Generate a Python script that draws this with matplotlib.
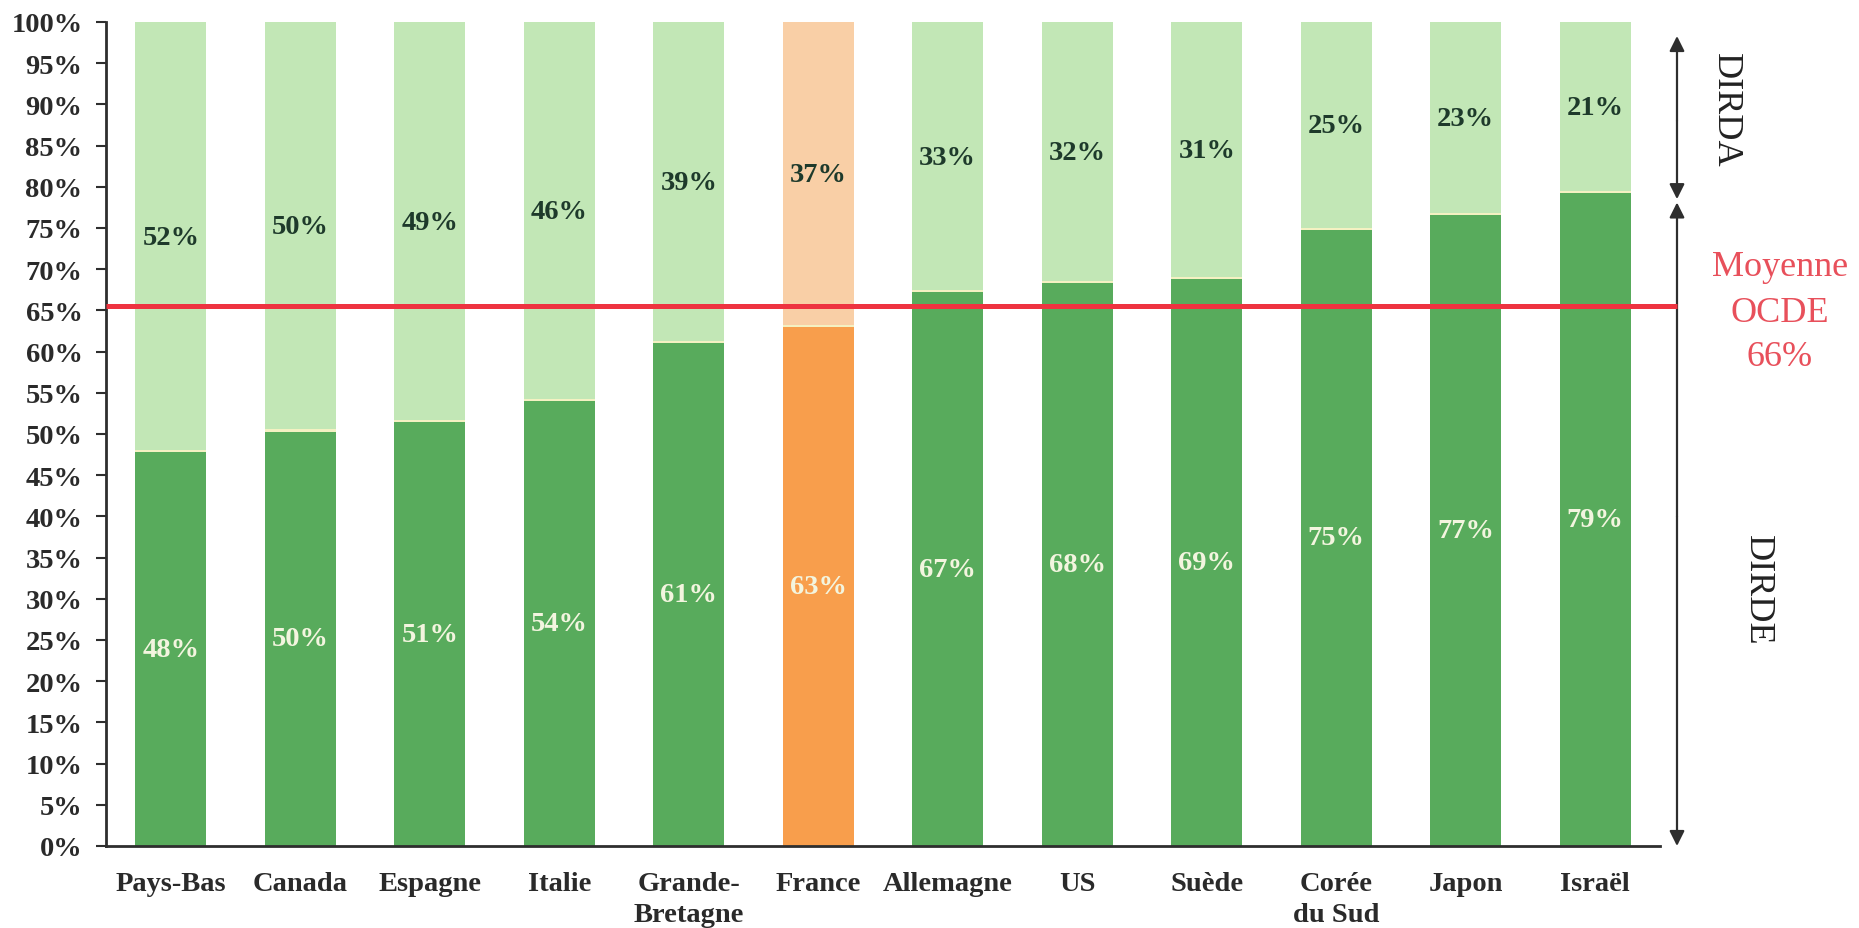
import matplotlib
matplotlib.use("Agg")
import matplotlib.pyplot as plt
import matplotlib.transforms as mtransforms

# ---- data ----
countries = ["Pays-Bas", "Canada", "Espagne", "Italie", "Grande-\nBretagne", "France",
             "Allemagne", "US", "Suède", "Corée\ndu Sud", "Japon", "Israël"]
dirde = [47.8, 50.3, 51.4, 54.0, 61.0, 63.0, 67.2, 68.3, 68.8, 74.8, 76.6, 79.2]
dirda = [round(100 - v, 1) for v in dirde]
highlight = "France"
ocde_line = 65.5
ocde_label = "66%"
yticks = list(range(0, 101, 5))

# ---- style ----
DARK_GREEN = "#58AB5C"
LIGHT_GREEN = "#C2E7B6"
DARK_ORANGE = "#F89E4C"
LIGHT_ORANGE = "#F9CFA6"
TXT_DARK = "#1E3A2B"
TXT_LIGHT = "#F3F5DF"
AX_COL = "#2E2E2E"
RED = "#EE3340"
RED_TXT = "#E8505B"
SERIF = ["Liberation Serif", "DejaVu Serif"]

fig = plt.figure(figsize=(18.59, 9.29), dpi=100)
ax = fig.add_axes([106 / 1859, 1 - 847 / 929, 1554 / 1859, 824 / 929])

x = list(range(len(countries)))
dark_cols = [DARK_ORANGE if c == highlight else DARK_GREEN for c in countries]
light_cols = [LIGHT_ORANGE if c == highlight else LIGHT_GREEN for c in countries]
w = 0.55
ax.bar(x, dirde, width=w, color=dark_cols, edgecolor="none", zorder=2)
ax.bar(x, dirda, width=w, bottom=dirde, color=light_cols, edgecolor="none", zorder=2)
# thin pale boundary between segments
ax.bar(x, [0.25] * len(x), width=w, bottom=dirde, color="#F4F1C2", edgecolor="none", zorder=2.5)

for xi, lo, hi in zip(x, dirde, dirda):
    ax.text(xi, lo / 2, f"{lo:.0f}%", ha="center", va="center", fontsize=20.5,
            fontweight="bold", family=SERIF, color=TXT_LIGHT, zorder=4)
    ax.text(xi, lo + hi / 2, f"{hi:.0f}%", ha="center", va="center", fontsize=20.5,
            fontweight="bold", family=SERIF, color=TXT_DARK, zorder=4)

ax.set_xlim(-0.5, len(x) - 0.5)
ax.set_ylim(0, 100)
ax.set_yticks(yticks)
ax.set_yticklabels([f"{t}%" for t in yticks])
ax.set_xticks(x)
ax.set_xticklabels(countries)

for s in ["top", "right"]:
    ax.spines[s].set_visible(False)
for s in ["left", "bottom"]:
    ax.spines[s].set_color(AX_COL)
    ax.spines[s].set_linewidth(2)
ax.tick_params(axis="y", direction="out", length=7, width=1.5, color=AX_COL, pad=10)
ax.tick_params(axis="x", length=0, pad=18)
for lab in ax.get_yticklabels() + ax.get_xticklabels():
    lab.set_family(SERIF)
    lab.set_fontweight("bold")
    lab.set_fontsize(20.5)
    lab.set_color("#2A2A2A")
for lab in ax.get_xticklabels():
    lab.set_linespacing(1.3)

# OCDE mean line
trans = mtransforms.blended_transform_factory(ax.transAxes, ax.transData)
arrow_x = (1677 - 106) / 1554
ax.plot([0, arrow_x], [ocde_line, ocde_line], color=RED, lw=3.6, transform=trans,
        clip_on=False, zorder=5, solid_capstyle="butt")

# arrows
astyle = dict(arrowstyle="-|>,head_length=0.9,head_width=0.45", color=AX_COL, lw=1.6,
              shrinkA=0, shrinkB=0)
ax.annotate("", xy=(arrow_x, 98.3), xytext=(arrow_x, 88.0), xycoords=trans,
            textcoords=trans, arrowprops=astyle, annotation_clip=False)
ax.annotate("", xy=(arrow_x, 78.5), xytext=(arrow_x, 88.0), xycoords=trans,
            textcoords=trans, arrowprops=astyle, annotation_clip=False)
ax.annotate("", xy=(arrow_x, 78.1), xytext=(arrow_x, 40.0), xycoords=trans,
            textcoords=trans, arrowprops=astyle, annotation_clip=False)
ax.annotate("", xy=(arrow_x, 0.0), xytext=(arrow_x, 40.0), xycoords=trans,
            textcoords=trans, arrowprops=astyle, annotation_clip=False)

fig.text(1725 / 1859, 1 - 110 / 929, "DIRDA", rotation=270, ha="center", va="center",
         fontsize=26, family=SERIF, color="#222222")
fig.text(1757 / 1859, 1 - 590 / 929, "DIRDE", rotation=270, ha="center", va="center",
         fontsize=26, family=SERIF, color="#222222")
for txt, yy in [("Moyenne", 268), ("OCDE", 313), (ocde_label, 357)]:
    fig.text(1780 / 1859, 1 - yy / 929, txt, ha="center", va="center", fontsize=26,
             family=SERIF, color=RED_TXT)

fig.savefig("out.png", dpi=100, facecolor="white")
